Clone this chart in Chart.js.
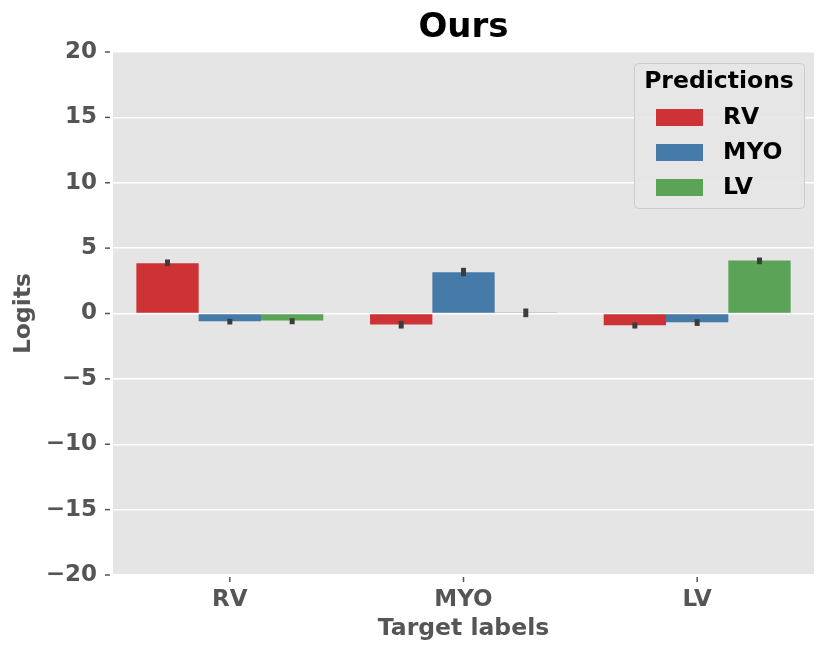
<!DOCTYPE html>
<html>
<head>
<meta charset="utf-8">
<script src="https://cdn.jsdelivr.net/npm/chart.js@4"></script>
<style>
html,body{margin:0;padding:0;background:#fff;}
canvas{display:block;}
</style>
</head>
<body>
<canvas id="c" width="830" height="658"></canvas>
<script>
const categories = ['RV', 'MYO', 'LV'];
const seriesNames = ['RV', 'MYO', 'LV'];
const rvValues  = [3.85, -0.84, -0.90];
const myoValues = [-0.59, 3.16, -0.67];
const lvValues  = [-0.54, 0.08, 4.05];
const rvErrLow  = [3.62, -1.15, -1.15];
const rvErrHigh = [4.13, -0.57, -0.69];
const myoErrLow  = [-0.84, 2.85, -0.95];
const myoErrHigh = [-0.41, 3.49, -0.44];
const lvErrLow  = [-0.82, -0.28, 3.77];
const lvErrHigh = [-0.36, 0.38, 4.28];
const yTicks = [-20, -15, -10, -5, 0, 5, 10, 15, 20];
const colors = ['#cd3336', '#457aa9', '#5aa357'];

const values = [rvValues, myoValues, lvValues];
const errLow = [rvErrLow, myoErrLow, lvErrLow];
const errHigh = [rvErrHigh, myoErrHigh, lvErrHigh];

Chart.defaults.font.family = "'DejaVu Sans', sans-serif";
Chart.defaults.font.weight = 'bold';

const bgPlugin = {
  id: 'bg',
  beforeDraw(chart) {
    const {ctx, chartArea: a} = chart;
    ctx.save();
    ctx.fillStyle = '#ffffff';
    ctx.fillRect(0, 0, chart.width, chart.height);
    ctx.fillStyle = '#e5e5e5';
    ctx.fillRect(a.left, a.top, a.right - a.left, a.bottom - a.top);
    ctx.restore();
  },
  afterDraw(chart) {
    const {ctx, chartArea: a} = chart;
    const ys = chart.scales.y, xs = chart.scales.x;
    ctx.save();
    ctx.strokeStyle = '#555555';
    ctx.lineWidth = 1.5;
    ys.ticks.forEach((t, i) => {
      const y = ys.getPixelForTick(i);
      ctx.beginPath(); ctx.moveTo(a.left - 8, y); ctx.lineTo(a.left - 3, y); ctx.stroke();
    });
    xs.ticks.forEach((t, i) => {
      const x = xs.getPixelForTick(i);
      ctx.beginPath(); ctx.moveTo(x, a.bottom + 2); ctx.lineTo(x, a.bottom + 7); ctx.stroke();
    });
    ctx.restore();
  }
};

const errPlugin = {
  id: 'err',
  afterDatasetsDraw(chart) {
    const {ctx} = chart;
    const ys = chart.scales.y;
    ctx.save();
    ctx.strokeStyle = '#3c3c3c';
    ctx.lineWidth = 5;
    ctx.lineCap = 'butt';
    chart.data.datasets.forEach((ds, di) => {
      const meta = chart.getDatasetMeta(di);
      meta.data.forEach((bar, i) => {
        const y1 = ys.getPixelForValue(errLow[di][i]);
        const y2 = ys.getPixelForValue(errHigh[di][i]);
        ctx.beginPath(); ctx.moveTo(bar.x, y1); ctx.lineTo(bar.x, y2); ctx.stroke();
      });
    });
    ctx.restore();
  }
};

const legendPlugin = {
  id: 'customLegend',
  afterDraw(chart) {
    const {ctx} = chart;
    const bx = 634, by = 63, bw = 170, bh = 145;
    ctx.save();
    ctx.beginPath();
    ctx.roundRect(bx + 0.5, by + 0.5, bw, bh, 4);
    ctx.fillStyle = 'rgba(229,229,229,0.9)';
    ctx.fill();
    ctx.strokeStyle = '#cccccc';
    ctx.lineWidth = 1;
    ctx.stroke();
    ctx.fillStyle = '#000000';
    ctx.font = "bold 23.5px 'DejaVu Sans'";
    ctx.textAlign = 'center';
    ctx.textBaseline = 'middle';
    ctx.fillText('Predictions', bx + bw / 2, 82);
    ctx.textAlign = 'left';
    chart.data.datasets.forEach((ds, i) => {
      const cy = 117 + i * 35;
      ctx.fillStyle = ds.backgroundColor;
      ctx.fillRect(656, cy - 8, 47, 17);
      ctx.fillStyle = '#000000';
      ctx.fillText(ds.label, 723, cy + 1);
    });
    ctx.restore();
  }
};

function fmt(v) {
  return v < 0 ? '\u2212' + Math.abs(v) : String(v);
}

new Chart(document.getElementById('c'), {
  type: 'bar',
  data: {
    labels: categories,
    datasets: seriesNames.map((n, i) => ({
      label: n,
      data: values[i],
      backgroundColor: colors[i],
      borderWidth: 0,
      categoryPercentage: 0.8,
      barPercentage: 1.0
    }))
  },
  plugins: [bgPlugin, errPlugin, legendPlugin],
  options: {
    responsive: false,
    animation: false,
    devicePixelRatio: 1,
    layout: { padding: { top: 0, right: 16, bottom: 0, left: 0 } },
    plugins: {
      legend: { display: false },
      tooltip: { enabled: false },
      title: {
        display: true,
        fullSize: false,
        text: 'Ours',
        color: '#000000',
        font: { size: 34, weight: 'bold', lineHeight: 1.2 },
        padding: { top: 7.6, bottom: 3.6 }
      }
    },
    scales: {
      x: {
        grid: { display: false, drawTicks: false },
        border: { display: false },
        ticks: {
          color: '#555555',
          font: { size: 23, weight: 'bold' },
          padding: 11
        },
        title: {
          display: true,
          text: 'Target labels',
          color: '#555555',
          font: { size: 23.5, weight: 'bold', lineHeight: 1.2 },
          padding: { top: 0, bottom: 15 }
        },
        afterFit(scale) { scale.height = 83; }
      },
      y: {
        min: -20,
        max: 20,
        afterBuildTicks(scale) { scale.ticks = yTicks.map(v => ({ value: v })); },
        grid: { color: '#ffffff', lineWidth: 1.5, drawTicks: false },
        border: { display: false },
        ticks: {
          color: '#555555',
          font: { size: 23, weight: 'bold' },
          padding: 16,
          callback: (v) => fmt(v)
        },
        title: {
          display: true,
          text: 'Logits',
          color: '#555555',
          font: { size: 23.5, weight: 'bold', lineHeight: 1.2 },
          padding: { top: 10, bottom: 0 }
        },
        afterFit(scale) { scale.width = 113; }
      }
    }
  }
});
</script>
</body>
</html>
